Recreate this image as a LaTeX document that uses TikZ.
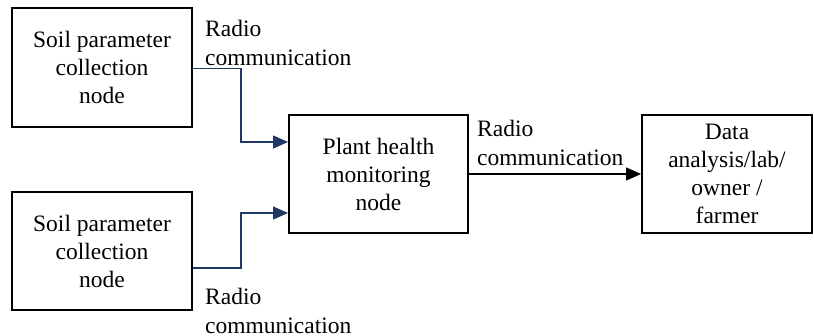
\documentclass[tikz,border=0pt]{standalone}
\usepackage{fontspec}
\setmainfont{Liberation Serif}
\usetikzlibrary{arrows.meta,positioning,calc}
\definecolor{navy}{RGB}{31,56,100}
\tikzset{
  box/.style={draw=black, line width=2pt, align=center, inner sep=0pt,
    font=\fontsize{23.5}{28}\selectfont},
  lbl/.style={align=left, inner sep=0pt, anchor=west,
    font=\fontsize{23.5}{28.5}\selectfont},
  conn/.style={draw=navy, line width=1.3pt, -{Triangle[length=15pt,width=13pt]}},
  connk/.style={draw=black, line width=1.3pt, -{Triangle[length=15pt,width=13pt]}}
}
\begin{document}
\begin{tikzpicture}[x=1pt,y=1pt]
\useasboundingbox (0,0) rectangle (814,335);
\node[box, minimum width=180pt, minimum height=119pt] (a) at (102,267.5) {Soil parameter\\collection\\node};
\node[box, minimum width=180pt, minimum height=118pt] (b) at (102,84) {Soil parameter\\collection\\node};
\node[box, minimum width=179pt, minimum height=118pt] (m) at (378.5,161) {Plant health\\monitoring\\node};
\node[box, minimum width=170pt, minimum height=118pt] (r) at (727,161) {Data\\analysis/lab/\\owner /\\farmer};
\node[lbl] (la) at (205,292) {Radio\\communication};
\node[lbl] (lb) at (205,24) {Radio\\communication};
\node[lbl] (lm) at (477,192) {Radio\\communication};
\draw[conn] ([yshift=-1pt]a.east) -- ++(48,0) |- ([yshift=32pt]m.west);
\draw[conn] ([yshift=-17pt]b.east) -- ++(48,0) |- ([yshift=-39pt]m.west);
\draw[connk] (m.east) -- (r.west);
\end{tikzpicture}
\end{document}
